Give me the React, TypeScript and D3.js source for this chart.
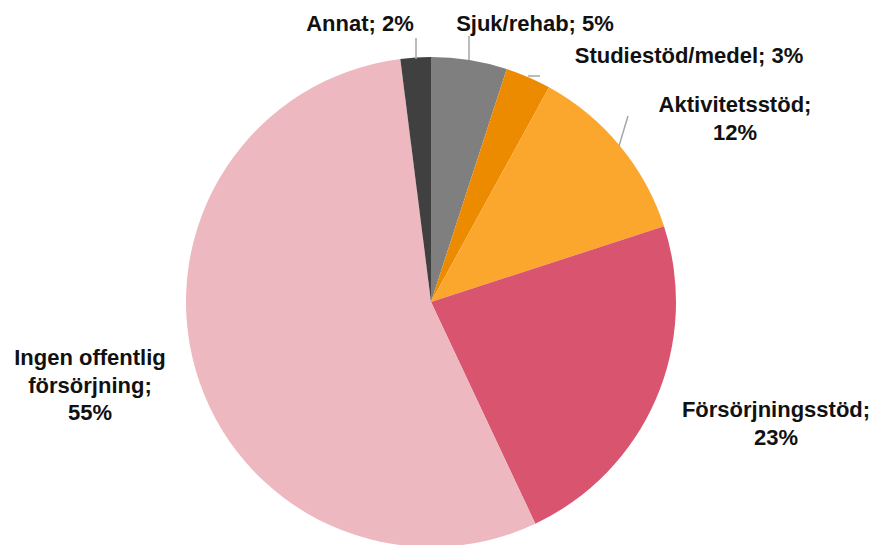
import React from "react";
import * as d3 from "d3";

const categories = ["Sjuk/rehab", "Studiestöd/medel", "Aktivitetsstöd", "Försörjningsstöd", "Ingen offentlig försörjning", "Annat"];
const values = [5, 3, 12, 23, 55, 2];
const colors = ["#7f7f7f", "#ec8a00", "#fba72e", "#d9546e", "#eeb8c1", "#404040"];
const labelLines = [
  ["Sjuk/rehab; 5%"],
  ["Studiestöd/medel; 3%"],
  ["Aktivitetsstöd;", "12%"],
  ["Försörjningsstöd;", "23%"],
  ["Ingen offentlig", "försörjning;", "55%"],
  ["Annat; 2%"],
];

const W = 883, H = 545;
const cx = 431, cy = 302, R = 245;
// label anchor (center x, first baseline y)
const labelPos: [number, number][] = [
  [535, 31],
  [689, 63],
  [735, 112],
  [776, 417],
  [90, 365],
  [360, 31],
];
// leader lines
const leaders: ([number, number][] | null)[] = [
  [[469, 36], [469, 60]],
  [[540, 76], [528, 76]],
  [[628, 116], [619, 146]],
  null,
  null,
  [[416, 38], [416, 59]],
];

export default function App() {
  const pie = d3.pie<number>().sort(null).value((d) => d);
  const arcs = pie(values);
  const arc = d3.arc<d3.PieArcDatum<number>>().innerRadius(0).outerRadius(R);
  return (
    <svg width={W} height={H} style={{ position: "absolute", left: 0, top: 0 }}>
      <rect width={W} height={H} fill="#fff" />
      <g transform={`translate(${cx},${cy})`}>
        {arcs.map((a, i) => (
          <path key={i} d={arc(a) || ""} fill={colors[i]} />
        ))}
      </g>
      {leaders.map((l, i) =>
        l ? (
          <polyline key={i} points={l.map((p) => p.join(",")).join(" ")} fill="none" stroke="#a6a6a6" strokeWidth={1.5} />
        ) : null
      )}
      {labelLines.map((lines, i) => (
        <text
          key={i}
          x={labelPos[i][0]}
          y={labelPos[i][1]}
          textAnchor="middle"
          fontFamily="'Liberation Sans', Arial, sans-serif"
          fontWeight="bold"
          fontSize={22}
          fill="#111"
        >
          {lines.map((t, j) => (
            <tspan key={j} x={labelPos[i][0]} dy={j === 0 ? 0 : 27.5}>
              {t}
            </tspan>
          ))}
        </text>
      ))}
    </svg>
  );
}
